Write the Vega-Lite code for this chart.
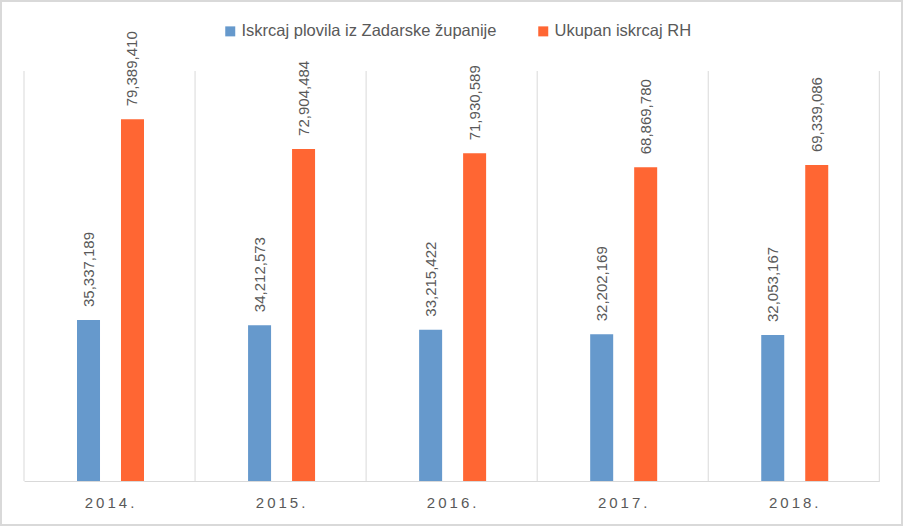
{
  "$schema": "https://vega.github.io/schema/vega-lite/v6.json",
  "width": 901,
  "height": 524,
  "autosize": {"type": "none"},
  "padding": 1,
  "background": "white",
  "config": {
    "font": "Liberation Sans",
    "view": {"stroke": "#d9d9d9", "strokeWidth": 2}
  },
  "data": {
    "values": [
      {"year": "2014.", "series": "Iskrcaj plovila iz Zadarske županije", "value": 35337189},
      {"year": "2014.", "series": "Ukupan iskrcaj RH", "value": 79389410},
      {"year": "2015.", "series": "Iskrcaj plovila iz Zadarske županije", "value": 34212573},
      {"year": "2015.", "series": "Ukupan iskrcaj RH", "value": 72904484},
      {"year": "2016.", "series": "Iskrcaj plovila iz Zadarske županije", "value": 33215422},
      {"year": "2016.", "series": "Ukupan iskrcaj RH", "value": 71930589},
      {"year": "2017.", "series": "Iskrcaj plovila iz Zadarske županije", "value": 32202169},
      {"year": "2017.", "series": "Ukupan iskrcaj RH", "value": 68869780},
      {"year": "2018.", "series": "Iskrcaj plovila iz Zadarske županije", "value": 32053167},
      {"year": "2018.", "series": "Ukupan iskrcaj RH", "value": 69339086}
    ]
  },
  "layer": [
    {
      "data": {"values": [{"year": "2014."}, {"year": "2015."}, {"year": "2016."}, {"year": "2017."}, {"year": "2018."}]},
      "mark": {"type": "rule", "color": "#d9d9d9", "strokeWidth": 1},
      "encoding": {
        "x": {"field": "year", "type": "nominal", "bandPosition": 0,
              "scale": {"domain": ["2014.", "2015.", "2016.", "2017.", "2018."], "range": [23, 878.3], "paddingInner": 0, "paddingOuter": 0}},
        "y": {"datum": 0, "type": "quantitative", "axis": null,
              "scale": {"domain": [0, 90000000], "range": [480, 70], "nice": false, "zero": true}},
        "y2": {"datum": 90000000}
      }
    },
    {
      "data": {"values": [{"year": "2018."}]},
      "mark": {"type": "rule", "color": "#d9d9d9", "strokeWidth": 1},
      "encoding": {
        "x": {"field": "year", "type": "nominal", "bandPosition": 1},
        "y": {"datum": 0, "type": "quantitative", "axis": null},
        "y2": {"datum": 90000000}
      }
    },
    {
      "mark": {"type": "bar"},
      "encoding": {
        "x": {
          "field": "year", "type": "nominal",
          "axis": {
            "title": null, "orient": "bottom", "offset": -44, "grid": false,
            "bandPosition": 0.5, "labelAlign": "center",
            "domainColor": "#d9d9d9", "domainWidth": 1, "ticks": false,
            "labelAngle": 0, "labelPadding": 21, "labelFontSize": 15,
            "labelColor": "#595959",
            "labelExpr": "join(split(datum.label, ''), '\u2009')"
          }
        },
        "xOffset": {
          "field": "series", "type": "nominal",
          "sort": ["Iskrcaj plovila iz Zadarske županije", "Ukupan iskrcaj RH"],
          "scale": {"range": [53, 120], "paddingInner": 0.477, "paddingOuter": 0}
        },
        "y": {"field": "value", "type": "quantitative", "axis": null},
        "color": {
          "field": "series", "type": "nominal",
          "scale": {"domain": ["Iskrcaj plovila iz Zadarske županije", "Ukupan iskrcaj RH"], "range": ["#6699cc", "#ff6633"]},
          "legend": {
            "title": null, "orient": "none", "direction": "horizontal",
            "legendX": 221, "legendY": 22,
            "symbolType": "square", "symbolSize": 100, "symbolStrokeWidth": 0,
            "labelFontSize": 16.5, "labelColor": "#595959", "labelOffset": 3,
            "columnPadding": 38, "labelLimit": 400
          }
        }
      }
    },
    {
      "mark": {"type": "text", "angle": 270, "align": "left", "baseline": "middle", "dx": 13, "fontSize": 15, "color": "#595959"},
      "encoding": {
        "x": {"field": "year", "type": "nominal"},
        "xOffset": {
          "field": "series", "type": "nominal",
          "sort": ["Iskrcaj plovila iz Zadarske županije", "Ukupan iskrcaj RH"],
          "scale": {"range": [53, 120], "paddingInner": 0.477, "paddingOuter": 0}
        },
        "y": {"field": "value", "type": "quantitative", "axis": null},
        "text": {"field": "value", "type": "quantitative", "format": ","}
      }
    }
  ]
}
